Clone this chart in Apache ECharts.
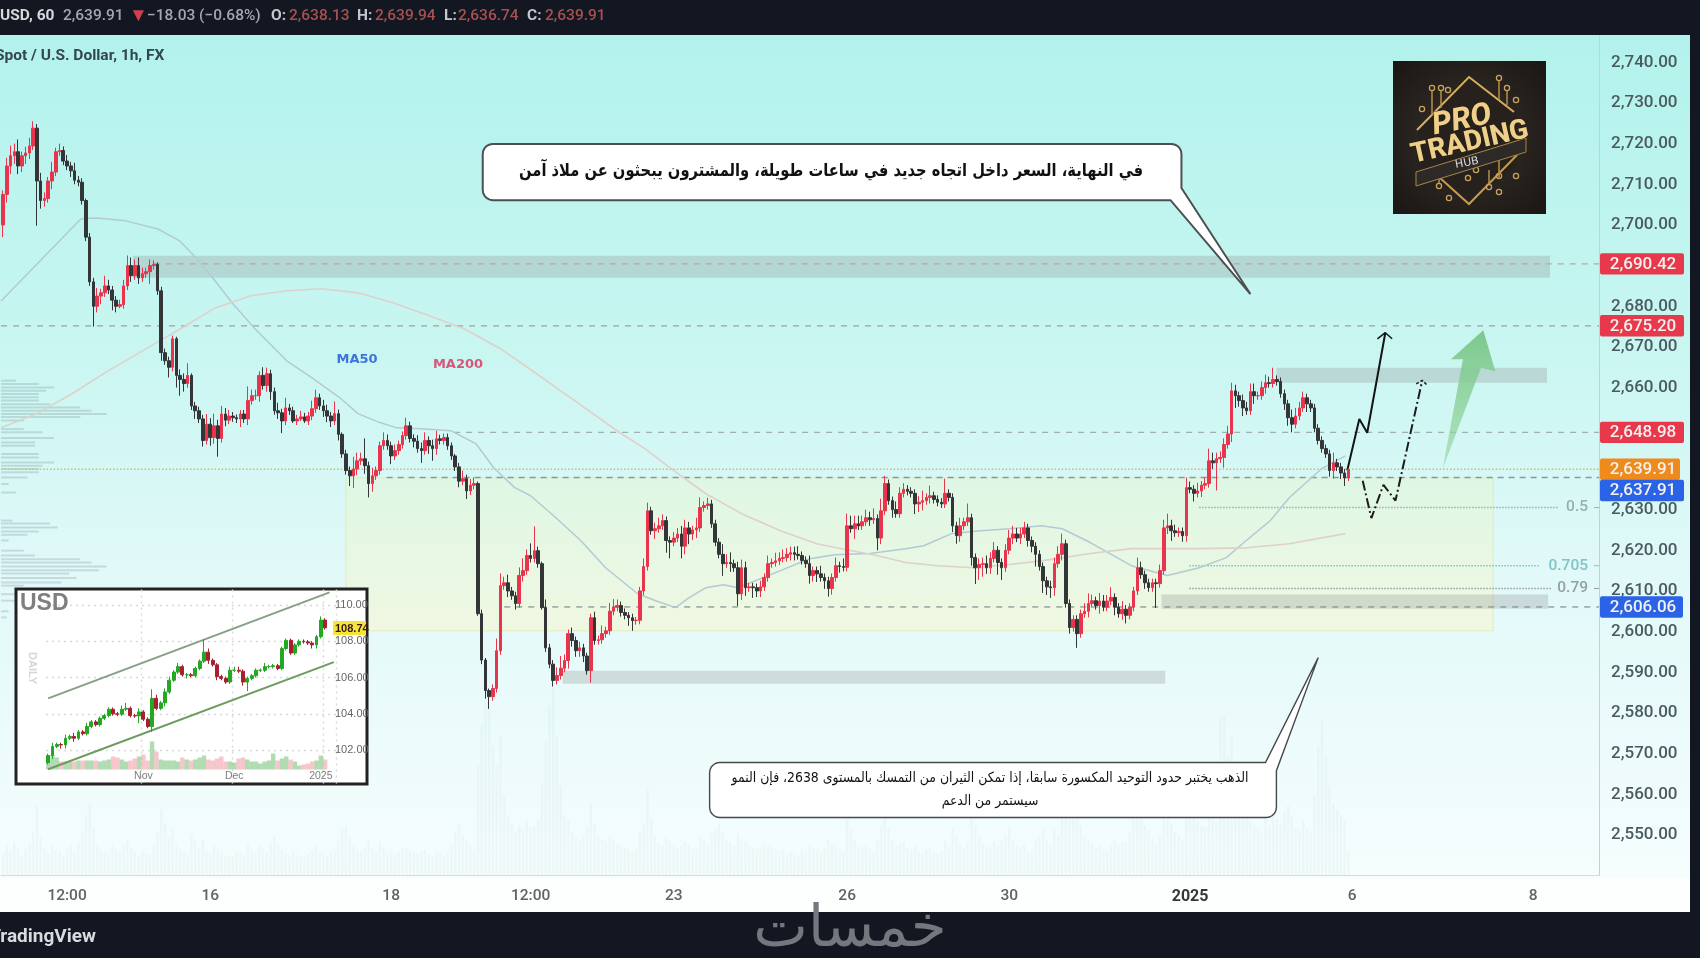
<!DOCTYPE html>
<html><head><meta charset="utf-8">
<style>html,body{margin:0;padding:0;background:#fff}#c{width:1700px;height:970px}</style>
<script src="https://cdn.jsdelivr.net/npm/echarts@6/dist/echarts.min.js"></script>
</head><body><div id="c"></div>
<script>
// ---------- main chart data ----------
const slotCount = 424;
const tickLabels = {17:'12:00',55:'16',103:'18',140:'12:00',178:'23',224:'26',267:'30',315:'2025',358:'6',406:'8'};
const hiddenPriceTicks = [2690,2650,2640];
const firstOpen = 2700;
const closes = [
2707.5,2714.5,2717,2718,2714.5,2717,2717.7,2719.4,2723.8,2710.8,
2706,2706.5,2710.8,2713,2718,2718.3,2715.7,2714.5,2713.3,2711,
2710.5,2706,2697,2686,2680,2682.5,2683.3,2685,2684,2681.5,
2680,2680.4,2685,2690,2687.5,2690,2687,2688,2688.5,2690,
2690.3,2683.8,2668.6,2666.6,2665,2672,2663,2662,2661,2663,
2655.5,2654.3,2652.3,2647,2651,2647.7,2650.6,2647.5,2653.5,2652,
2653,2652.6,2652.3,2653.5,2652.3,2656.8,2658,2658,2663,2660.5,
2663.4,2659,2654.3,2653.8,2651.8,2655,2654.3,2651.8,2652.3,2652.8,
2651.8,2653,2654.8,2657.5,2655.5,2654.3,2653,2651.8,2653.6,2648.5,
2643.7,2639.6,2638.3,2640,2642,2642.5,2640.8,2636.4,2638.3,2639.6,
2645.7,2647,2645.7,2643.2,2644.5,2646,2648.2,2650.6,2647.5,2646.8,
2645,2644.5,2647,2645.7,2645,2647.4,2647,2647.7,2645.7,2643.2,
2640.5,2637,2637.6,2634.6,2636,2636.4,2604.4,2593,2585.5,2584,
2586,2595.3,2611.3,2612,2610,2608.8,2606.9,2613.8,2615,2618.7,
2618,2619.9,2616.7,2605.9,2596,2592,2588,2589.2,2591,2592.9,
2599.5,2597.8,2595.3,2596,2594,2590.4,2603.4,2597.8,2598,2599.5,
2600.2,2605,2606,2606.4,2604.7,2604,2603.4,2602.7,2602.8,2610,
2616,2629.7,2624.8,2625.3,2626,2627.3,2622.4,2622,2623,2624,
2621,2625.5,2624,2625,2625.5,2630.5,2631,2631.4,2626.5,2622,
2619,2616.7,2617,2616.7,2615.7,2609.3,2615.7,2610.8,2611,2610.8,
2610,2611,2613.3,2616.7,2617,2617.4,2618,2618.2,2619,2619.4,
2619,2618.7,2617.5,2616.7,2613.8,2615,2614.2,2613.3,2612.5,2610.6,
2613.3,2616.2,2616,2615.8,2626,2625.3,2626.5,2626,2627,2628,
2627.5,2627.8,2623,2629.7,2636.4,2632.2,2630,2629,2634,2635,
2634.5,2634,2631.4,2631.8,2632.2,2633,2633.4,2632.5,2631.8,2631.4,
2634,2633,2626,2623.6,2626,2627,2628,2618.2,2615.7,2616.5,
2616.7,2615.7,2618,2620,2617,2615.7,2620,2623,2624,2623,
2624,2625.5,2622.4,2621,2619,2616,2612.5,2611,2610.8,2616.7,
2619,2621.6,2606.9,2601,2603,2599.5,2604.4,2605,2606.9,2607.6,
2606.4,2607.5,2606,2607.5,2608.4,2606,2604.4,2605.5,2604,2606,
2610,2615.7,2614,2612,2610.8,2612,2611.8,2615,2625.5,2626,
2624.8,2624.3,2624.6,2623.6,2635.4,2635,2634,2634.6,2636,2636.4,
2642,2641.5,2642.5,2642.8,2646,2648.6,2659.2,2658,2656.8,2655,
2654.3,2659,2658,2658,2660,2661.2,2661,2662,2661.5,2658.5,
2656,2652.6,2651,2653,2655,2657.5,2656,2655,2650,2647,
2645,2643.7,2639.6,2641.5,2640.5,2639,2637.8,2639.91];
const wickUp = [
1,2,2.5,2,3,1,1.5,2,1.7,1, 2,1.5,1,2.5,1,1.7,1,1.5,1,2, 1,1,.5,1,1,2,1,2.5,1.5,1, 1,1.2,1.5,2.5,2,1.5,2,1.5,1,1.5,
1,.5,1,1,1,.8,.5,1.5,1.5,3, .5,1,1,1,2.5,1.5,3,1.5,2,1.5, 1.5,1,.8,1,1,3.5,1.5,1.5,1,2, 1.5,1,1,2,1,2.5,1,1,1,1.5,
1,1,2,2,1,1.5,1.5,1,3,1, .5,1,1,3,2,1.5,5,1,2,1, 1,2,1.5,1,1.5,1,1,2,1,1, 1.5,1.5,2,1,1.5,2,1,1,1,.8,
.5,1,2,1,1.5,1.5,.5,1,.5,.5, 1,3,3,1.5,2,1,1,2,3,1.5, 3,6,1,.5,2,1,1,2,3,1.5, 1,1.5,1,1.5,1,.8,1,1.5,1,2,
1,2,2,1.5,1,1,.8,1,.8,1, 2,2,1,1.5,2,1.5,1,1,1.5,1.5, 2,2,1.5,1,2.5,2.5,1,1.5,1,1, 1,2.5,2,2.5,1,1.5,2,1.5,1,1,
1,1.5,1,2,1,2,1.5,2,1.5,1.5, 1.5,2,1,1,2,1,1,2,1,1, 1,2,1,2,3,2.5,2,2,1.5,2, 1.5,2.5,1,3,1.9,1,1,2,1.5,1.5,
1,1,1,1.5,2.5,1,2.5,1,1,1, 3.6,1,1,1,2,1,3.5,1,1,1.5, 1.5,2,1.5,2,1,1,1.5,2,2,1.5, 1.5,1.5,1,1,1,1,1,1,1.5,1.5,
2,2.5,1,1,1,1,1,2,2.5,1.5, 1,2,1.5,1.5,2.5,1,1,2,1,1, 1,2.5,1.5,1,1,1,1,1.5,2,3, 1.5,1.5,1,1,2.5,1.5,1,2,1,1.5,
3,2,1.5,1.5,1.5,2,2,1.5,1,1.5, 1.5,2,2,1,1.5,2,1.5,2.9,1,1, 1,1,2,2,1.5,1.5,1,1,1,1, 1,1,1,2.5,1,1,1,.1];
const wickDown = [
3,2,2,2,2,1.5,2,1.5,1,11, 2,1.5,1,2,1,1,1,1,1.5,1, 1,1,1,1,5,1.5,2,1,1,2.5, 1.5,.5,1,1,1.5,1,1.5,1,1,3,
1,1,2,1,2.5,1,3,4,2,1, 1,2,1,1.5,1,2,1.5,4.5,1,1.5, 1,1,1,2,1,1.5,1,1,1.5,1, 1.5,2,1,1.5,3,1,1,.5,1,.5,
.5,1,1,1,1,1.5,1.5,1.5,1,1.5, 1,1,2.5,3,1.5,1,2,3.4,2,1, 1,1,1,2,1,1,1,1,1,1.5, 1,3,1,2,3,1.5,1,1,1,1,
1,1.5,1,2,1,1,.5,1,2,3, 1,1,1,1,1.5,1,1.5,1,1.5,1, 1,1,1,.5,1,1,1.5,1,1,1, 2,1.5,1.5,1.5,1.5,1,3,1,1,1,
1,1,1,1,1,1,2,2.5,1,1, 1,1,1,2,1,1,3,4,1,1, 3,2,2.5,1.5,2,1,1,1,1,1, 1,3,1,2,1,3,1.5,2,1,2.5,
1.5,1.5,1,1,1,1,1,1,1,1.5, 1.5,1,1,1,2,1.5,2,1,2,2, 1.5,1,1.5,1,1,1,2.5,1,1,1, 1.5,1,3,1.5,1,1,2,1,1,1,
1,1,2.5,2,2,1,1.5,1,1,1, 1,1,1.5,2,1.5,1,1,2,4,3, 3,1.5,1.5,1,3,3,1,1,1.5,1, 1.5,1,1.5,1.5,3,1,3,2,2.5,2,
1,1.5,1,1.5,1,3.5,1,1,1.5,1, 1,2,1,1,1,2,1,1.5,2,1, 1,1,1,1.5,1,1,6,1,1,1.5, 2.5,1,1,1.5,1.5,1,2,1,1.5,1,
1,1.5,6.8,1,2.5,1,2,3,1.5,2, 1,1,2,1,1,1.5,1,1,1,1, 1.5,2,2,1,1,1,2,1,1,1, 1,1,1.5,2,1,1.5,2,.8];
const volumes = [
22,30,25,34,28,20,26,31,44,70, 38,27,22,30,26,24,20,27,30,25, 33,45,60,72,48,30,26,24,22,30, 27,24,30,36,28,24,20,26,23,21,
30,44,66,52,38,46,30,26,24,22, 42,35,28,36,25,22,30,27,24,21, 20,19,24,22,20,32,26,23,30,27, 24,33,40,30,26,22,20,24,21,19,
18,22,26,30,24,22,20,24,26,34, 46,50,38,30,26,24,28,36,28,24, 34,28,24,26,22,24,26,28,25,23, 22,24,26,22,20,24,22,20,24,30,
44,52,40,36,30,26,110,150,175,168, 130,110,140,80,60,52,44,50,46,54, 48,50,56,92,135,170,190,140,90,60, 56,44,38,36,40,50,72,52,40,36,
34,40,36,32,30,28,26,24,26,44, 52,86,56,40,32,30,38,34,30,28, 30,34,30,26,28,40,36,30,42,46, 52,44,36,32,30,42,36,34,30,28,
26,28,32,30,28,26,24,26,22,24, 22,20,26,24,30,28,26,24,28,36, 32,30,26,24,60,46,36,30,28,30, 26,24,36,50,62,48,36,30,32,34,
28,26,30,24,22,26,28,24,22,24, 36,30,48,40,32,28,34,62,50,40, 32,30,28,34,30,36,40,50,36,30, 28,30,24,26,36,40,46,36,30,46,
40,58,100,110,70,84,50,40,36,32, 28,30,26,24,30,36,30,34,32,44, 60,80,64,50,46,36,32,40,90,70, 52,44,40,36,100,76,60,54,50,48,
86,62,54,158,160,120,140,96,70,60, 64,54,50,46,44,60,50,70,56,52, 64,70,60,48,46,54,48,44,80,130, 156,120,90,72,66,60,56,24];
const ma50 = [[-.5,2681.3],[20.7,2701.5],[25,2701.7],[32.6,2701],[41.1,2699],[47,2696],[51.5,2691.6],[56.3,2686.2],[61,2680.6],[66.9,2674.4],[75.3,2666.6],[82,2662.4],[89.4,2657.5],[94.2,2653.6],[100,2651.4],[104.5,2650.1],[111.1,2649.9],[118.8,2649.4],[125.5,2646.2],[130.2,2640.3],[135.8,2635.4],[140,2633.4],[146.7,2628],[153.3,2622.4],[159.9,2615.7],[168.4,2609.3],[173.2,2607.6],[178.5,2605.9],[181.7,2608.1],[186.5,2610.8],[191.2,2611.5],[195,2610.8],[206.3,2615],[214,2617.9],[220.7,2618.9],[230,2619.2],[239.5,2620.4],[244.3,2621.1],[251.7,2624.1],[259.4,2624.8],[267,2625.3],[275.6,2626],[281.1,2625.3],[288.5,2621.9],[292.3,2619.9],[299.4,2616.2],[309,2613.8],[317.4,2615.7],[324.6,2618.2],[329.9,2622.4],[336.3,2627.3],[341.3,2632.9],[349.8,2640],[356.2,2643.2]];
const ma200 = [[-.5,2650.1],[9,2653.6],[18.3,2658.5],[27.9,2664.1],[40.3,2670.8],[47,2674.4],[56.3,2679.6],[65.8,2682.6],[75.3,2683.8],[84.6,2684.3],[94.2,2683.3],[103.7,2680.8],[113.3,2677.6],[122.5,2674.4],[132.1,2669.5],[141.6,2663.4],[148,2659.2],[163.7,2648.9],[170.3,2645],[178,2639.6],[186.5,2633.9],[196,2629],[206.3,2624.8],[215.9,2621.6],[225.2,2619.9],[231,2618.9],[239.5,2617],[248,2616.2],[257.5,2615.7],[267,2616.5],[275.6,2617.4],[288.5,2619.2],[299.4,2620.4],[317.4,2620.4],[329.9,2620.6],[341.3,2621.6],[356.2,2624.1]];
const profilePrices = [2661.7,2660.9,2660,2659.2,2658.4,2657.6,2656.8,2655.9,2655.1,2654.3,2653.5,2652.8,2651.9,2649.8,2649,2647.6,2646.5,2645.7,2643.7,2642.8,2641.6,2640.8,2640,2639.2,2637.9,2636.3,2634.2,2627.3,2626.6,2625.6,2624.6,2623.8,2622.4,2619.9,2618.7,2617.8,2617,2616,2615.1,2614.3,2613.2,2612.1,2611.3,2609.2,2607.6,2605,2603.5];
const profileSizes =  [4,10,14,12,10,10,10,13,21,24,28,21,6,6,11,14,9,9,10,10,14,11,10,10,7,2,4,3,13,15,10,7,2,6,9,21,24,28,26,18,20,16,6,5,4,2,1.5];
// price levels and right-hand tags
const levelValues = [2690.42,2675.20,2648.98,2639.91,2637.91,2606.06];
const levelStarts = [40,-.5,119.7,-.5,101.8,133];
const levelColors = ['#c9a0a0','#a39fa2','#9fb0b2','#c9c25a','#7f9aa6','#7d9092'];
const levelDashes = [[6,6],[6,6],[6,6],[1.5,2],[6,5],[6,6]];
const tagValues = [2690.42,2675.20,2648.98,2639.91,2637.91,2606.06];
const tagColors = ['#e8394c','#e8394c','#e8394c','#ef8a1c','#2b63e6','#2b63e6'];
const tagNudges = [0,0,0,0,13,0];
const tagWidths = [84,84,84,80,84,83];
// Fibonacci levels
const fibValues = [2630.5,2616.2,2610.6];
const fibLabels = ['0.5','0.705','0.79'];
const fibStarts = [317.4,314.8,314.8];
const fibEnds = [412.6,407.9,411];
const fibColors = ['#97b0a8','#7fc4c6','#96a09e'];
// shaded zones [x0,p0,x1,p1]
const yellowBox = [[91,2637.8,395.4,2600.2]];
const greyZones = [[34.5,2692.4,410.5,2687],[337.9,2664.9,409.7,2661.2],[307.4,2609.1,410,2605.6],[148.5,2590.4,308.4,2587.2]];
// projected paths
const arrowSolid = [[356.7,2639.6],[359.9,2652.3],[362,2648.9],[366.8,2673.5]];
const arrowSolidHead = [[364.7,2672],[366.8,2673.5],[368.6,2672]];
const arrowDashed = [[360.8,2637.1],[363.1,2627.9],[366.3,2636.1],[369.5,2632.2],[376.6,2661.8]];
const arrowDashedHead = [[375,2660.9],[376.6,2661.8],[378.1,2660.4]];
const greenArrow = [[382,2640],[387.4,2667],[384.2,2667],[392.8,2674.1],[396,2664],[392.2,2664.9]];
// callouts
const noteTop = 'في النهاية، السعر داخل اتجاه جديد في ساعات طويلة، والمشترون يبحثون عن ملاذ آمن';
const noteLow1 = 'الذهب يختبر حدود التوحيد المكسورة سابقا، إذا تمكن الثيران من التمسك بالمستوى 2638، فإن النمو';
const noteLow2 = 'سيستمر من الدعم';
// inset USD chart
const insetSlots = 67;
const insetLabels = {22:'Nov',43:'Dec',63:'2025'};
const insetGridMarks = [22,43,64];
const insetFirstOpen = 101.3;
const insetCloses = [101.7,102.2,102.3,102.28,102.65,102.75,102.65,103,102.9,103.3,103.55,103.4,103.75,103.9,104.25,104,103.97,104.25,104.3,103.9,103.88,104.1,103.7,103.3,104.85,104.3,104.6,105.2,105.85,106.3,106.6,106.15,106.15,106.1,106.5,106.9,107.4,106.95,106.7,106.05,105.95,105.75,106.4,106.4,106.35,105.75,105.95,106.1,106.4,106.4,106.6,106.6,106.65,106.5,107.6,108.05,107.35,107.8,108,107.97,107.9,107.8,108.25,109.17,108.74];
const insetWickUp = [.1,.2,.1,.1,.2,.1,.2,.1,.1,.2,.1,.1,.1,.1,.1,.1,.1,.2,.3,.1,.1,.2,.1,.1,.5,.2,.1,.2,.2,.1,.2,.1,.1,.1,.1,.1,.7,.2,.1,.1,.1,.1,.2,.2,.2,.1,.1,.1,.1,.1,.2,.1,.1,.1,.1,.1,.1,.1,.1,.1,.1,.1,.1,.2,.1];
const insetWickDown = [.1,.2,.1,.2,.2,.1,.2,.1,.1,.1,.1,.1,.1,.1,.1,.1,.1,.1,.1,.1,.1,.4,.1,.1,.3,.1,.1,.2,.1,.1,.1,.1,.2,.1,.1,.1,.1,.2,.1,.2,.1,.1,.1,.1,.1,.2,.5,.1,.1,.1,.1,.1,.1,.1,.1,.1,.1,.1,.1,.1,.1,.2,.2,.1,.1];
const insetVolumes = [9,15,12,8,8,8,8,9,9,9,9,9,8,9,10,13,12,10,8,9,11,13,15,9,28,18,10,9,9,9,8,12,10,9,10,12,14,10,9,11,13,8,8,7,11,12,10,8,8,6,8,9,16,9,11,13,10,8,4,5,6,8,9,14,10];
const channelUpper = [[0,104.85],[65,110.7]];
const channelLower = [[0,100.94],[66,106.85]];

// ---------- derived for the library ----------
const categories = Array.from({length:slotCount},(_,i)=>String(i));
const candles = closes.map((c,i)=>{const o=i?closes[i-1]:firstOpen;return [o,c,Math.min(o,c)-wickDown[i],Math.max(o,c)+wickUp[i]];});
const insetCats = Array.from({length:insetSlots},(_,i)=>String(i));
const insetCandles = insetCloses.map((c,i)=>{const o=i?insetCloses[i-1]:insetFirstOpen;return [o,c,Math.min(o,c)-insetWickDown[i],Math.max(o,c)+insetWickUp[i]];});
const G = echarts.graphic;

function arc(cx,cy,r,a0,a1){const p=[];for(let k=0;k<=5;k++){const a=a0+(a1-a0)*k/5;p.push([cx+r*Math.cos(a),cy+r*Math.sin(a)]);}return p;}
const PI=Math.PI;
function bubbleShape(a,b,tip,bx,ry,tailTop){
  const x0=a[0],y0=a[1],x1=b[0],y1=b[1],r=10;
  let pts=arc(x0+r,y0+r,r,PI,1.5*PI);
  if(tailTop){pts.push([bx,y0],tip,[x1,ry]);pts=pts.concat(arc(x1-r,y1-r,r,0,.5*PI));}
  else{pts=pts.concat(arc(x1-r,y0+r,r,1.5*PI,2*PI));pts.push([x1,ry],tip,[bx,y1]);}
  pts=pts.concat(arc(x0+r,y1-r,r,.5*PI,PI));
  return pts;
}
function bubbleRender(params,api){
  const top=api.coord([127.3,2719.9]),bot=api.coord([312.7,2706.1]);
  const tip=api.coord([331,2683]),bx=api.coord([309.8,2706.1])[0],ry=api.coord([312.7,2709.1])[1];
  const t2=api.coord([187.5,2567.8]),b2=api.coord([337.9,2554.3]);
  const tip2=api.coord([349,2593.6]),bx2=api.coord([335,2567.8])[0],ry2=api.coord([337.9,2565.8])[1];
  return {type:'group',children:[
    {type:'polygon',shape:{points:bubbleShape(top,bot,tip,bx,ry,false)},style:{fill:'#fff',stroke:'#4c5052',lineWidth:2}},
    {type:'text',x:(top[0]+bot[0])/2-1,y:(top[1]+bot[1])/2-1,scaleX:.84,style:{text:noteTop,x:0,y:0,align:'center',verticalAlign:'middle',font:'bold 17.5px "DejaVu Sans"',fill:'#111'}},
    {type:'polygon',shape:{points:bubbleShape(t2,b2,tip2,bx2,ry2,true)},style:{fill:'#fff',stroke:'#45494b',lineWidth:1.4}},
    {type:'text',x:(t2[0]+b2[0])/2-3,y:t2[1]+16,scaleX:.89,style:{text:noteLow1,x:0,y:0,align:'center',verticalAlign:'middle',font:'14px "DejaVu Sans"',fill:'#111'}},
    {type:'text',x:(t2[0]+b2[0])/2-3,y:t2[1]+39,scaleX:.89,style:{text:noteLow2,x:0,y:0,align:'center',verticalAlign:'middle',font:'14px "DejaVu Sans"',fill:'#111'}}
  ]};
}
const rectOf=(api,d)=>{const a=api.coord([d[0],d[1]]),b=api.coord([d[2],d[3]]);return {x:a[0],y:a[1],width:b[0]-a[0],height:b[1]-a[1]};};
const plainLine=(x,y,z,i,extra)=>({type:'line',xAxisIndex:x,yAxisIndex:y,z:z,symbol:'none',silent:true,animation:false,data:i,...extra});

const option = {
  animation:false,
  backgroundColor:new G.LinearGradient(0,0,0,1,[{offset:.03,color:'#b2f2ec'},{offset:.35,color:'#c8f6f1'},{offset:.6,color:'#e2f9f9'},{offset:.9,color:'#f5fdfd'}]),
  grid:[
    {left:0,width:1599,top:21.6,height:854},
    {left:46,width:290,top:589.6,height:196.65},
    {left:46,width:290,top:730,height:39.5}
  ],
  xAxis:[
    {type:'category',gridIndex:0,data:categories,z:3,offset:1,axisTick:{show:false},axisLine:{lineStyle:{color:'#d2dcde'}},splitLine:{show:false},
      axisLabel:{interval:0,margin:12,color:'#5d6468',fontFamily:'Roboto',fontSize:15.5,fontWeight:500,
        formatter:v=>{const t=tickLabels[v];if(!t)return '';return t==='2025'?'{b|2025}':t;},rich:{b:{fontFamily:'Roboto',fontSize:16,fontWeight:700,color:'#33383b'}}}},
    {type:'value',gridIndex:0,show:false,min:-.5,max:423.5,splitLine:{show:false}},
    {type:'category',gridIndex:1,data:insetCats,z:6,axisTick:{show:false},axisLine:{show:false},
      splitLine:{show:true,interval:i=>insetGridMarks.includes(i),lineStyle:{color:'#d8d8d8',type:[2,4],width:1.4}},
      axisLabel:{inside:true,interval:0,margin:5,color:'#7d7d7d',fontFamily:'Liberation Sans',fontSize:10.5,formatter:v=>insetLabels[v]||''}},
    {type:'category',gridIndex:2,data:insetCats,show:false}
  ],
  yAxis:[
    {type:'value',gridIndex:0,position:'right',min:2540,max:2750,interval:10,z:1,axisTick:{show:false},axisLine:{show:true,onZero:false,lineStyle:{color:'#bcd4d5'}},splitLine:{show:false},
      axisLabel:{margin:12,showMinLabel:false,showMaxLabel:false,color:'#4a5a5f',fontFamily:'Roboto',fontSize:17,fontWeight:500,
        formatter:v=>hiddenPriceTicks.includes(v)?'':v.toLocaleString('en-US',{minimumFractionDigits:2,maximumFractionDigits:2})}},
    {type:'value',gridIndex:0,show:false,min:0,max:855,splitLine:{show:false}},
    {type:'value',gridIndex:1,position:'right',min:100,max:110.85,interval:2,z:6,axisTick:{show:false},axisLine:{show:false,onZero:false},
      splitLine:{show:true,showMinLine:false,showMaxLine:false,lineStyle:{color:'#d8d8d8',type:[2,4],width:1.4}},
      axisLabel:{margin:-1,showMinLabel:false,showMaxLabel:false,color:'#666',fontFamily:'Liberation Sans',fontSize:11,formatter:v=>v.toFixed(2)}},
    {type:'value',gridIndex:2,show:false,min:0,max:39.5,splitLine:{show:false}}
  ],
  series:[
    {type:'custom',name:'box',xAxisIndex:1,yAxisIndex:0,z:1,silent:true,data:yellowBox,encode:{x:[0,2],y:[1,3]},
      renderItem:(p,api)=>({type:'rect',shape:rectOf(api,[api.value(0),api.value(1),api.value(2),api.value(3)]),
        style:{fill:new G.LinearGradient(0,0,0,1,[{offset:0,color:'rgba(232,246,205,.42)'},{offset:1,color:'rgba(248,246,205,.55)'}]),stroke:'rgba(225,225,160,.6)',lineWidth:1}})},
    {type:'custom',name:'zones',xAxisIndex:1,yAxisIndex:0,z:1,silent:true,data:greyZones,encode:{x:[0,2],y:[1,3]},
      renderItem:(p,api)=>({type:'rect',shape:rectOf(api,[api.value(0),api.value(1),api.value(2),api.value(3)]),style:{fill:'rgba(135,135,135,.27)'}})},
    {type:'bar',name:'Volume',xAxisIndex:0,yAxisIndex:1,z:1,barWidth:2.4,silent:true,data:volumes,itemStyle:{color:'rgba(185,198,203,.11)'}},
    {type:'custom',name:'Profile',xAxisIndex:1,yAxisIndex:0,z:1,silent:true,data:profilePrices.map((v,i)=>[profileSizes[i],v]),encode:{x:0,y:1},
      renderItem:(p,api)=>{const a=api.coord([-.5,api.value(1)]),b=api.coord([-.5+api.value(0),api.value(1)]);
        return {type:'rect',shape:{x:a[0],y:a[1]-1,width:b[0]-a[0],height:2},style:{fill:'rgba(105,125,135,.24)'}};}},
    plainLine(1,0,2,ma50,{name:'MA50',lineStyle:{color:'#b3cad3',width:1.5}}),
    plainLine(1,0,2,ma200,{name:'MA200',lineStyle:{color:'#dfd0cb',width:1.6}}),
    {type:'custom',name:'levels',xAxisIndex:1,yAxisIndex:0,z:2,silent:true,data:levelValues.map((v,i)=>[levelStarts[i],v]),encode:{x:0,y:1},
      renderItem:(p,api)=>{const i=p.dataIndex,a=api.coord([levelStarts[i],levelValues[i]]),b=api.coord([423.5,levelValues[i]]);
        return {type:'line',shape:{x1:a[0],y1:a[1],x2:b[0],y2:b[1]},style:{stroke:levelColors[i],lineWidth:i===4||i===3?1.5:1.2,lineDash:levelDashes[i]}};}},
    {type:'custom',name:'fib',xAxisIndex:1,yAxisIndex:0,z:2,silent:true,data:fibValues.map((v,i)=>[fibStarts[i],v]),encode:{x:0,y:1},
      renderItem:(p,api)=>{const i=p.dataIndex,a=api.coord([fibStarts[i],fibValues[i]]),b=api.coord([fibEnds[i],fibValues[i]]),r=api.coord([423.5,fibValues[i]]);
        return {type:'group',children:[
          {type:'line',shape:{x1:a[0],y1:a[1],x2:b[0],y2:b[1]},style:{stroke:fibColors[i],lineWidth:1.5,lineDash:[1.5,1.5]}},
          {type:'line',shape:{x1:r[0]-5,y1:r[1],x2:r[0],y2:r[1]},style:{stroke:fibColors[i],lineWidth:1}},
          {type:'text',style:{text:fibLabels[i],x:r[0]-11,y:r[1],align:'right',verticalAlign:'middle',font:'500 15.5px Roboto',fill:fibColors[i]}}
        ]};}},
    {type:'candlestick',name:'XAUUSD',xAxisIndex:0,yAxisIndex:0,z:3,silent:true,barWidth:3.1,data:candles,
      itemStyle:{color:'#e8344c',color0:'#333537',borderColor:'#e8344c',borderColor0:'#333537',borderWidth:1}},
    plainLine(1,0,3,arrowSolid,{lineStyle:{color:'#141414',width:2}}),
    plainLine(1,0,3,arrowSolidHead,{lineStyle:{color:'#141414',width:1.5}}),
    plainLine(1,0,3,arrowDashed,{lineStyle:{color:'#1c1c1c',width:2,type:[10,3,2,3]}}),
    plainLine(1,0,3,arrowDashedHead,{lineStyle:{color:'#1c1c1c',width:1.5,type:[3,2]}}),
    {type:'custom',name:'greenArrow',xAxisIndex:1,yAxisIndex:0,z:3,silent:true,data:greenArrow,encode:{x:0,y:1},
      renderItem:(p,api)=>{if(p.dataIndex!==0)return null;
        return {type:'polygon',shape:{points:greenArrow.map(d=>api.coord(d))},style:{fill:new G.LinearGradient(0,1,0,0,[{offset:0,color:'rgba(150,215,160,.6)'},{offset:1,color:'rgba(120,198,135,.95)'}])}};}},
    {type:'custom',name:'callouts',xAxisIndex:1,yAxisIndex:0,z:4,silent:true,data:[[127.3,2719.9]],encode:{x:0,y:1},renderItem:bubbleRender},
    {type:'custom',name:'tags',xAxisIndex:1,yAxisIndex:0,z:8,silent:true,data:tagValues.map(v=>[423.5,v]),encode:{x:0,y:1},
      renderItem:(p,api)=>{const i=p.dataIndex,c=api.coord([423.5,tagValues[i]]),y=c[1]+tagNudges[i],x=c[0]+1;
        return {type:'group',children:[
          {type:'rect',shape:{x:x,y:y-10.7,width:tagWidths[i],height:21.4,r:2},style:{fill:tagColors[i]}},
          {type:'text',style:{text:tagValues[i].toLocaleString('en-US',{minimumFractionDigits:2}),x:x+43,y:y+.5,align:'center',verticalAlign:'middle',font:'500 17px Roboto',fill:'#f4f1ee'}}
        ]};}},
    // inset
    {type:'bar',xAxisIndex:3,yAxisIndex:3,z:6,barWidth:4.4,silent:true,data:insetVolumes.map((v,i)=>({value:v,itemStyle:{color:insetCandles[i]&&insetCandles[i][1]>=insetCandles[i][0]?'rgba(125,195,125,.6)':'rgba(242,160,170,.6)'}}))},
    {type:'candlestick',xAxisIndex:2,yAxisIndex:2,z:7,silent:true,barWidth:3.4,data:insetCandles,
      itemStyle:{color:'#23a823',color0:'#a82030',borderColor:'#23a823',borderColor0:'#a82030',borderWidth:1}},
    plainLine(2,2,7,channelUpper,{lineStyle:{color:'#86a086',width:2}}),
    plainLine(2,2,7,channelLower,{lineStyle:{color:'#6f9a60',width:2}})
  ],
  graphic:{elements:[
    // chrome
    {type:'rect',z:10,shape:{x:0,y:0,width:1700,height:35},style:{fill:'#131722'}},
    {type:'rect',z:10,shape:{x:1690,y:0,width:10,height:912},style:{fill:'#131722'}},
    {type:'rect',z:2,shape:{x:0,y:878,width:1690,height:34},style:{fill:'#fdfefe'}},
    {type:'rect',z:10,shape:{x:0,y:912,width:1700,height:46},style:{fill:'#131722'}},
    {type:'rect',z:10,shape:{x:0,y:958,width:1700,height:12},style:{fill:'#fff'}},
    ...[['USD, 60',0,'#d6d8dc',700,15.5],['2,639.91',63,'#a4a8ae',500,15.5],['▼',129,'#d04050',500,19],['−18.03 (−0.68%)',147,'#a4a8ae',500,15.5],['O:',271,'#c4c7cc',700,15.5],['2,638.13',289,'#a8504f',500,15.5],['H:',357,'#c4c7cc',700,15.5],['2,639.94',375,'#a8504f',500,15.5],['L:',444,'#c4c7cc',700,15.5],['2,636.74',458,'#a8504f',500,15.5],['C:',527,'#c4c7cc',700,15.5],['2,639.91',545,'#a8504f',500,15.5]]
      .map(t=>({type:'text',z:11,style:{text:t[0],x:t[1],y:16,verticalAlign:'middle',font:t[3]+' '+t[4]+'px Roboto',fill:t[2]}})),
    {type:'text',z:5,style:{text:'Spot / U.S. Dollar, 1h, FX',x:-5,y:56,verticalAlign:'middle',font:'700 15.5px Roboto',fill:'#33474c'}},
    {type:'text',z:11,style:{text:'TradingView',x:96,y:937,align:'right',verticalAlign:'middle',font:'700 19px Roboto',fill:'#d9dbde'}},
    {type:'text',z:11,style:{text:'خمسات',x:850,y:931,align:'center',verticalAlign:'middle',font:'58px "DejaVu Sans"',fill:'#73787f'}},
    {type:'text',z:5,style:{text:'MA50',x:357,y:360,align:'center',verticalAlign:'middle',font:'700 13px "DejaVu Sans"',fill:'#3f73dd'}},
    {type:'text',z:5,style:{text:'MA200',x:458,y:365,align:'center',verticalAlign:'middle',font:'700 13px "DejaVu Sans"',fill:'#d9557a'}},
    // inset frame
    {type:'rect',z:5,shape:{x:16,y:589,width:351,height:195},style:{fill:'#fff',stroke:'#222',lineWidth:3}},
    {type:'text',z:9,style:{text:'USD',x:20,y:604,verticalAlign:'middle',font:'700 23px "Liberation Sans"',fill:'#7f7f7f'}},
    {type:'text',z:9,rotation:-PI/2,x:32,y:668,style:{text:'DAILY',x:0,y:0,align:'center',verticalAlign:'middle',font:'700 11px "Liberation Sans"',fill:'#d6d6d6'}},
    {type:'rect',z:9,shape:{x:333,y:621,width:33,height:14},style:{fill:'#f3e636'}},
    {type:'text',z:9,style:{text:'108.74',x:335,y:628.5,verticalAlign:'middle',font:'700 11px "Liberation Sans"',fill:'#3a1518'}},
    // logo
    {type:'rect',z:5,shape:{x:1393,y:61,width:153,height:153},style:{fill:new G.RadialGradient(.5,.5,.7,[{offset:0,color:'#3a322c'},{offset:1,color:'#1a1613'}])}},
    {type:'polygon',z:6,shape:{points:[[1469,77],[1517,112],[1517,165],[1469,204],[1418,165],[1418,128]]},style:{fill:'#26211d'}},
    {type:'polyline',z:6,shape:{points:[[1417,130],[1469,77],[1514,112]]},style:{stroke:'#d7ae5f',lineWidth:2,fill:'none'}},
    {type:'polyline',z:6,shape:{points:[[1440,178],[1469,204],[1517,155]]},style:{stroke:'#c79a4e',lineWidth:2,fill:'none'}},
    ...[[1432,88],[1441,88],[1448,90],[1499,78],[1507,88],[1516,100],[1422,109],[1476,170],[1468,178],[1516,176],[1499,192],[1489,187],[1439,186],[1449,198],[1499,176]]
      .map(c=>({type:'circle',z:6,shape:{cx:c[0],cy:c[1],r:2.6},style:{fill:'none',stroke:'#c9a35c',lineWidth:1.3}})),
    ...[[1432,91,1432,115],[1441,91,1441,108],[1499,81,1499,100],[1507,91,1507,105],[1439,183,1439,172],[1499,179,1499,160],[1489,184,1489,170]]
      .map(l=>({type:'line',z:6,shape:{x1:l[0],y1:l[1],x2:l[2],y2:l[3]},style:{stroke:'#b98f49',lineWidth:1.5}})),
    {type:'polygon',z:6,shape:{points:[[1416,172],[1526,138],[1526,152],[1416,186]]},style:{fill:'#2d2926',stroke:'#a88549',lineWidth:1}},
    {type:'text',z:7,rotation:.2,x:1462,y:121,style:{text:'PRO',x:0,y:0,align:'center',verticalAlign:'middle',font:'italic 800 31px Roboto',fill:'#efd08a',stroke:'#2a1c08',lineWidth:.8}},
    {type:'text',z:7,rotation:.22,x:1470,y:143,style:{text:'TRADING',x:0,y:0,align:'center',verticalAlign:'middle',font:'800 28px Roboto',fill:'#efd08a',stroke:'#2a1c08',lineWidth:.8}},
    {type:'text',z:7,rotation:.18,x:1467,y:163,style:{text:'HUB',x:0,y:0,align:'center',verticalAlign:'middle',font:'500 11px "DejaVu Sans"',fill:'#dcdcdc'}}
  ]}
};
const chart = echarts.init(document.getElementById('c'),null,{renderer:'canvas',width:1700,height:970});
chart.setOption(option);
</script></body></html>
